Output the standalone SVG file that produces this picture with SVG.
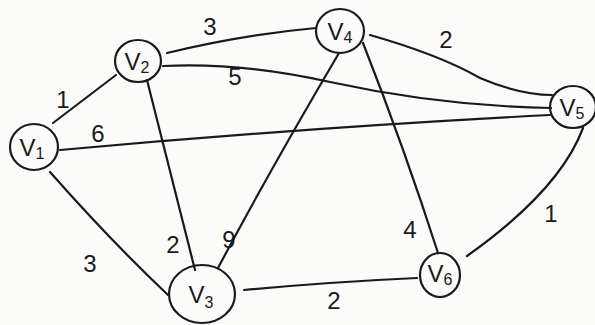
<svg xmlns="http://www.w3.org/2000/svg" width="595" height="325" viewBox="0 0 595 325">
<style>
.n{fill:none;stroke:#1a1a1a;stroke-width:2.2}
.e{fill:none;stroke:#1a1a1a;stroke-width:2.2;stroke-linecap:round}
.t{font-family:"Liberation Sans",Arial,sans-serif;font-size:24px;fill:#1a1a1a;text-anchor:middle}
.s{font-size:16px}
.w{font-family:"Liberation Sans",Arial,sans-serif;font-size:24px;fill:#1a1a1a;text-anchor:middle}
</style>
<rect width="595" height="325" fill="#fbfbfa"/>
<g id="edges">
<path class="e" d="M53,123 L116,75"/>
<path class="e" d="M167,53 Q240,35 316,28"/>
<path class="e" d="M163,66 Q240,62 330,82 Q440,106 551,108"/>
<path class="e" d="M60,150 Q300,128 550,115"/>
<path class="e" d="M370,35 Q440,55 480,78 Q520,95 552,95"/>
<path class="e" d="M147,80 Q170,170 195,270"/>
<path class="e" d="M339,53 Q270,170 218,268"/>
<path class="e" d="M50,172 Q110,240 168,295"/>
<path class="e" d="M363,43 Q405,150 438,253"/>
<path class="e" d="M583,128 Q560,190 467,256"/>
<path class="e" d="M244,290 Q330,282 417,278"/>
</g>
<g id="edge-labels">
<text class="w" x="63" y="108">1</text>
<text class="w" x="210" y="35">3</text>
<text class="w" x="235" y="85">5</text>
<text class="w" x="98" y="142">6</text>
<text class="w" x="446" y="48">2</text>
<text class="w" x="173" y="253">2</text>
<text class="w" x="229" y="248">9</text>
<text class="w" x="90" y="272">3</text>
<text class="w" x="410" y="238">4</text>
<text class="w" x="551" y="222">1</text>
<text class="w" x="334" y="309">2</text>
</g>
<g id="V1"><ellipse class="n" cx="34" cy="147" rx="24" ry="23"/><text class="t" x="32" y="156">V<tspan class="s" dy="3">1</tspan></text></g>
<g id="V2"><ellipse class="n" cx="138" cy="61" rx="23" ry="21"/><text class="t" x="137" y="70">V<tspan class="s" dy="3">2</tspan></text></g>
<g id="V3"><ellipse class="n" cx="202" cy="294" rx="33" ry="29"/><text class="t" x="201" y="303">V<tspan class="s" dy="5">3</tspan></text></g>
<g id="V4"><ellipse class="n" cx="340" cy="31" rx="24" ry="22"/><text class="t" x="340" y="40">V<tspan class="s" dy="3">4</tspan></text></g>
<g id="V5"><ellipse class="n" cx="573" cy="107" rx="23" ry="21"/><text class="t" x="572" y="116">V<tspan class="s" dy="3">5</tspan></text></g>
<g id="V6"><ellipse class="n" cx="440" cy="275" rx="20" ry="22"/><text class="t" x="440" y="282">V<tspan class="s" dy="3">6</tspan></text></g>
</svg>
